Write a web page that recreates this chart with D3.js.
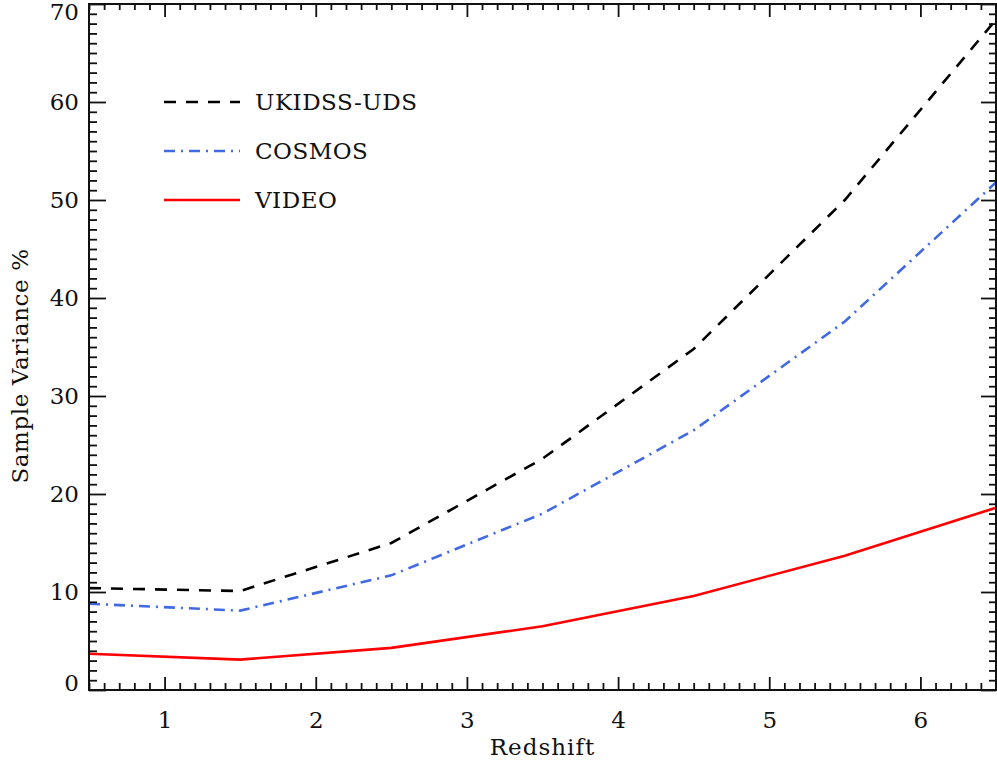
<!DOCTYPE html>
<html>
<head>
<meta charset="utf-8">
<script src="https://cdn.jsdelivr.net/npm/d3@7"></script>
<style>
  body { margin: 0; background: #fff; }
  svg { display: block; }
  text { font-family: "DejaVu Serif", serif; fill: #111; }
</style>
</head>
<body>
<svg id="chart"></svg>
<script>
// redshift bins
const redshift = [0.5, 1.5, 2.5, 3.5, 4.5, 5.5, 6.5];
// sample variance in per cent
const ukidss = [10.4, 10.1, 15.0, 23.6, 34.8, 50.0, 68.4];
const cosmos = [8.8, 8.1, 11.7, 18.0, 26.5, 37.6, 51.8];
const video = [3.7, 3.1, 4.3, 6.5, 9.6, 13.7, 18.6];

const seriesNames = ["UKIDSS-UDS", "COSMOS", "VIDEO"];
const xTicks = [1, 2, 3, 4, 5, 6];
const yTicks = [0, 10, 20, 30, 40, 50, 60, 70];

const width = 997;
const height = 761;
const margin = { top: 4, right: 1, bottom: 71, left: 89 };

const svg = d3.select("#chart").attr("width", width).attr("height", height);

const x = d3.scaleLinear().domain([0.5, 6.5]).range([margin.left, width - margin.right]);
const y = d3.scaleLinear().domain([0, 70]).range([height - margin.bottom, margin.top]);

const lines = [
  { name: seriesNames[0], values: ukidss, color: "#000000", dash: "12,10" },
  { name: seriesNames[1], values: cosmos, color: "#4169e1", dash: "11,6,2,6" },
  { name: seriesNames[2], values: video, color: "#ff0000", dash: null },
];

const line = d3.line()
  .x((d, i) => x(redshift[i]))
  .y((d) => y(d));

const plot = svg.append("g");
lines.forEach((s) => {
  plot.append("path")
    .datum(s.values)
    .attr("d", line)
    .attr("fill", "none")
    .attr("stroke", s.color)
    .attr("stroke-width", 2.6)
    .attr("stroke-dasharray", s.dash);
});

// minor ticks
const xMinor = d3.range(5, 66).map((v) => v / 10).filter((v) => Math.abs(v - Math.round(v)) > 1e-6);
const yMinor = d3.range(0, 71).filter((v) => v % 10 !== 0);

function axisStyle(g) {
  g.select(".domain").remove();
  g.selectAll("line").attr("stroke", "#111").attr("stroke-width", 1.8);
  g.selectAll("text").style("font-size", "23px").attr("fill", "#111");
}

const bottom = height - margin.bottom;
const right = width - margin.right;

// bottom
svg.append("g").attr("transform", `translate(0,${bottom})`)
  .call(d3.axisBottom(x).tickValues(xMinor).tickSize(-7).tickFormat(""))
  .call(axisStyle);
svg.append("g").attr("transform", `translate(0,${bottom})`)
  .call(d3.axisBottom(x).tickValues(xTicks).tickSizeInner(-13).tickSizeOuter(0).tickPadding(22).tickFormat(d3.format("d")))
  .call(axisStyle);
// top
svg.append("g").attr("transform", `translate(0,${margin.top})`)
  .call(d3.axisTop(x).tickValues(xMinor).tickSize(-6).tickFormat(""))
  .call(axisStyle);
svg.append("g").attr("transform", `translate(0,${margin.top})`)
  .call(d3.axisTop(x).tickValues(xTicks).tickSize(-13).tickFormat(""))
  .call(axisStyle);
// left
svg.append("g").attr("transform", `translate(${margin.left},0)`)
  .call(d3.axisLeft(y).tickValues(yMinor).tickSize(-8).tickFormat(""))
  .call(axisStyle);
const yAxis = svg.append("g").attr("transform", `translate(${margin.left},0)`)
  .call(d3.axisLeft(y).tickValues(yTicks).tickSizeInner(-17).tickSizeOuter(0).tickPadding(10).tickFormat(d3.format("d")))
  .call(axisStyle);
// keep the end labels inside the frame
yAxis.selectAll(".tick text")
  .attr("dy", (d) => (d === 0 ? "0.02em" : d === 70 ? "0.67em" : "0.32em"));
// right
svg.append("g").attr("transform", `translate(${right},0)`)
  .call(d3.axisRight(y).tickValues(yMinor).tickSize(-7).tickFormat(""))
  .call(axisStyle);
svg.append("g").attr("transform", `translate(${right},0)`)
  .call(d3.axisRight(y).tickValues(yTicks).tickSize(-15).tickFormat(""))
  .call(axisStyle);

// frame
svg.append("rect")
  .attr("x", margin.left)
  .attr("y", margin.top)
  .attr("width", right - margin.left)
  .attr("height", bottom - margin.top)
  .attr("fill", "none")
  .attr("stroke", "#111")
  .attr("stroke-width", 2);

// axis titles
svg.append("text")
  .attr("x", (margin.left + right) / 2)
  .attr("y", 755)
  .attr("text-anchor", "middle")
  .style("font-size", "23px")
  .style("letter-spacing", "1px")
  .text("Redshift");

svg.append("text")
  .attr("transform", `translate(28,366) rotate(-90)`)
  .attr("text-anchor", "middle")
  .style("font-size", "23px")
  .style("letter-spacing", "0.6px")
  .text("Sample Variance %");

// legend
const legend = svg.append("g");
const legendY = d3.scalePoint().domain(seriesNames).range([102, 200]);
lines.forEach((s) => {
  const ly = legendY(s.name);
  legend.append("line")
    .attr("x1", 164).attr("x2", 240)
    .attr("y1", ly).attr("y2", ly)
    .attr("stroke", s.color)
    .attr("stroke-width", 2.6)
    .attr("stroke-dasharray", s.dash);
  legend.append("text")
    .attr("x", 255)
    .attr("y", ly)
    .attr("dy", "0.36em")
    .style("font-size", "23px")
    .style("letter-spacing", "0.5px")
    .text(s.name);
});
</script>
</body>
</html>
